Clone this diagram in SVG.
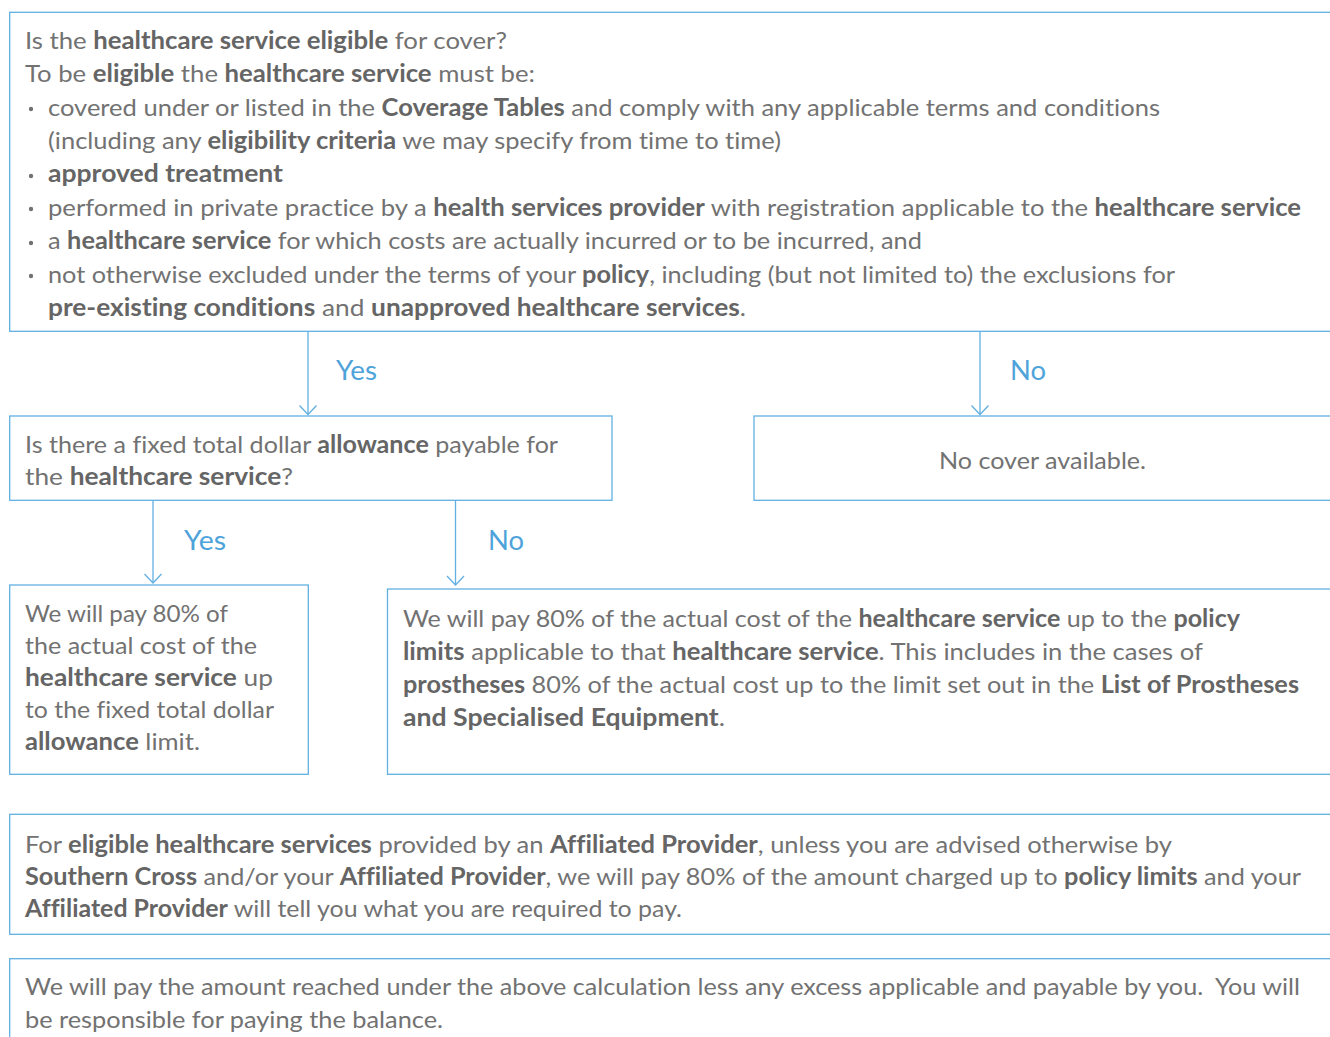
<svg xmlns="http://www.w3.org/2000/svg" width="1330" height="1037" viewBox="0 0 1330 1037">
<style>
.box{fill:#ffffff;stroke:#62b0e2;stroke-width:1.3}
.t{font-family:Lato,"Liberation Sans",sans-serif;font-size:24px;fill:#727272;font-variant-ligatures:none}
.b{font-weight:700;fill:#656565}
.lbl{font-family:Lato,"Liberation Sans",sans-serif;font-size:26px;fill:#4ea3da}
.c{fill:none;stroke:#62b0e2;stroke-width:1.3}
.dot{fill:#727272}
</style>
<defs>
<marker id="arr" markerWidth="12" markerHeight="20" refX="10" refY="10" orient="auto" markerUnits="userSpaceOnUse" viewBox="0 0 12 20">
<path d="M1,1.5 L10,10 L1,18.5" fill="none" stroke="#62b0e2" stroke-width="1.3"/>
</marker>
</defs>
<rect width="1330" height="1037" fill="#ffffff"/>

<g id="connectors">
<line class="c" x1="308" y1="331" x2="308" y2="414.5" marker-end="url(#arr)"/>
<line class="c" x1="980" y1="331" x2="980" y2="414.5" marker-end="url(#arr)"/>
<line class="c" x1="153" y1="500" x2="153" y2="583" marker-end="url(#arr)"/>
<line class="c" x1="455.5" y1="500" x2="455.5" y2="585" marker-end="url(#arr)"/>
<text class="lbl" x="336" y="380" textLength="41" lengthAdjust="spacingAndGlyphs">Yes</text>
<text class="lbl" x="1010" y="380" textLength="36" lengthAdjust="spacingAndGlyphs">No</text>
<text class="lbl" x="184" y="550" textLength="42" lengthAdjust="spacingAndGlyphs">Yes</text>
<text class="lbl" x="488" y="550" textLength="36" lengthAdjust="spacingAndGlyphs">No</text>
</g>

<g id="eligibility">
<rect class="box" x="9.7" y="12.3" width="1340" height="319"/>
<text class="t" x="25" y="49" textLength="482" lengthAdjust="spacingAndGlyphs">Is the <tspan class="b">healthcare service eligible</tspan> for cover?</text>
<text class="t" x="25" y="82" textLength="510" lengthAdjust="spacingAndGlyphs">To be <tspan class="b">eligible</tspan> the <tspan class="b">healthcare service</tspan> must be:</text>
<circle class="dot" cx="31" cy="109" r="2.2"/>
<text class="t" x="48" y="116" textLength="1112" lengthAdjust="spacingAndGlyphs">covered under or listed in the <tspan class="b">Coverage Tables</tspan> and comply with any applicable terms and conditions</text>
<text class="t" x="48" y="149" textLength="733" lengthAdjust="spacingAndGlyphs">(including any <tspan class="b">eligibility criteria</tspan> we may specify from time to time)</text>
<circle class="dot" cx="31" cy="176" r="2.2"/>
<text class="t b" x="48" y="182" textLength="235" lengthAdjust="spacingAndGlyphs">approved treatment</text>
<circle class="dot" cx="31" cy="209" r="2.2"/>
<text class="t" x="48" y="216" textLength="1253" lengthAdjust="spacingAndGlyphs">performed in private practice by a <tspan class="b">health services provider</tspan> with registration applicable to the <tspan class="b">healthcare service</tspan></text>
<circle class="dot" cx="31" cy="243" r="2.2"/>
<text class="t" x="48" y="249" textLength="874" lengthAdjust="spacingAndGlyphs">a <tspan class="b">healthcare service</tspan> for which costs are actually incurred or to be incurred, and</text>
<circle class="dot" cx="31" cy="276" r="2.2"/>
<text class="t" x="48" y="283" textLength="1127" lengthAdjust="spacingAndGlyphs">not otherwise excluded under the terms of your <tspan class="b">policy</tspan>, including (but not limited to) the exclusions for</text>
<text class="t" x="48" y="316" textLength="698" lengthAdjust="spacingAndGlyphs"><tspan class="b">pre-existing conditions</tspan> and <tspan class="b">unapproved healthcare services</tspan>.</text>
</g>

<g id="allowance">
<rect class="box" x="9.7" y="416" width="602.3" height="84.3"/>
<text class="t" x="25" y="453" textLength="533" lengthAdjust="spacingAndGlyphs">Is there a fixed total dollar <tspan class="b">allowance</tspan> payable for</text>
<text class="t" x="25" y="485" textLength="268" lengthAdjust="spacingAndGlyphs">the <tspan class="b">healthcare service</tspan>?</text>
</g>

<g id="nocover">
<rect class="box" x="754" y="416" width="600" height="84.3"/>
<text class="t" x="939" y="469" textLength="207" lengthAdjust="spacingAndGlyphs">No cover available.</text>
</g>

<g id="fixed">
<rect class="box" x="9.7" y="585" width="298.6" height="189.3"/>
<text class="t" x="25" y="622" textLength="203" lengthAdjust="spacingAndGlyphs">We will pay 80% of</text>
<text class="t" x="25" y="654" textLength="232" lengthAdjust="spacingAndGlyphs">the actual cost of the</text>
<text class="t" x="25" y="686" textLength="248" lengthAdjust="spacingAndGlyphs"><tspan class="b">healthcare service</tspan> up</text>
<text class="t" x="25" y="718" textLength="249" lengthAdjust="spacingAndGlyphs">to the fixed total dollar</text>
<text class="t" x="25" y="750" textLength="175" lengthAdjust="spacingAndGlyphs"><tspan class="b">allowance</tspan> limit.</text>
</g>

<g id="policylimits">
<rect class="box" x="387.5" y="589" width="960" height="185.3"/>
<text class="t" x="403" y="627" textLength="837" lengthAdjust="spacingAndGlyphs">We will pay 80% of the actual cost of the <tspan class="b">healthcare service</tspan> up to the <tspan class="b">policy</tspan></text>
<text class="t" x="403" y="660" textLength="800" lengthAdjust="spacingAndGlyphs"><tspan class="b">limits</tspan> applicable to that <tspan class="b">healthcare service</tspan>. This includes in the cases of</text>
<text class="t" x="403" y="693" textLength="896" lengthAdjust="spacingAndGlyphs"><tspan class="b">prostheses</tspan> 80% of the actual cost up to the limit set out in the <tspan class="b">List of Prostheses</tspan></text>
<text class="t" x="403" y="726" textLength="322" lengthAdjust="spacingAndGlyphs"><tspan class="b">and Specialised Equipment</tspan>.</text>
</g>

<g id="affiliated">
<rect class="box" x="9.7" y="814.3" width="1340" height="120"/>
<text class="t" x="25" y="853" textLength="1147" lengthAdjust="spacingAndGlyphs">For <tspan class="b">eligible healthcare services</tspan> provided by an <tspan class="b">Affiliated Provider</tspan>, unless you are advised otherwise by</text>
<text class="t" x="25" y="885" textLength="1276" lengthAdjust="spacingAndGlyphs"><tspan class="b">Southern Cross</tspan> and/or your <tspan class="b">Affiliated Provider</tspan>, we will pay 80% of the amount charged up to <tspan class="b">policy limits</tspan> and your</text>
<text class="t" x="25" y="917" textLength="657" lengthAdjust="spacingAndGlyphs"><tspan class="b">Affiliated Provider</tspan> will tell you what you are required to pay.</text>
</g>

<g id="excess">
<rect class="box" x="9.7" y="958.7" width="1340" height="120"/>
<text class="t" x="25" y="995" textLength="1275" lengthAdjust="spacingAndGlyphs" xml:space="preserve">We will pay the amount reached under the above calculation less any excess applicable and payable by you.  You will</text>
<text class="t" x="25" y="1028" textLength="418" lengthAdjust="spacingAndGlyphs">be responsible for paying the balance.</text>
</g>
</svg>
